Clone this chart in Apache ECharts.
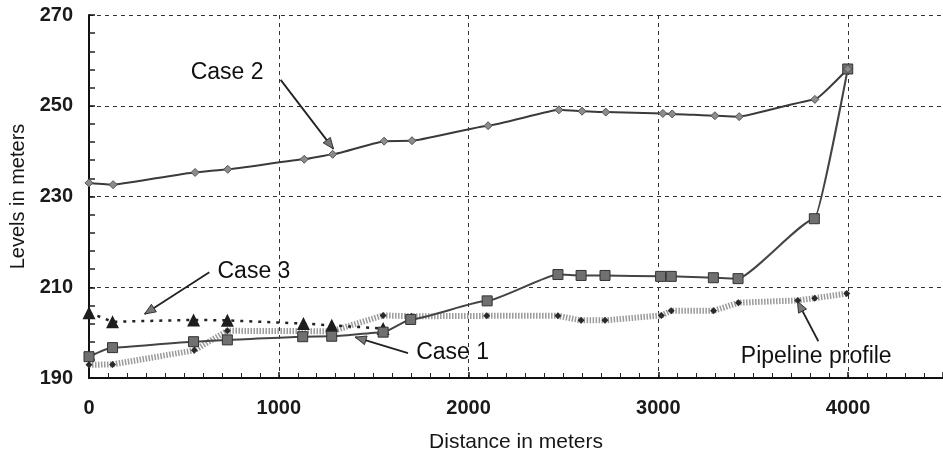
<!DOCTYPE html>
<html>
<head>
<meta charset="utf-8">
<script src="https://cdn.jsdelivr.net/npm/echarts@6/dist/echarts.min.js"></script>
<style>
html,body{margin:0;padding:0;background:#fff;}
#levels{width:943px;height:458px;}
</style>
</head>
<body>
<div id="levels"></div>
<script>
// values: [distance m, level m]
var case1 = [[0,194.7],[124,196.7],[551,198],[729,198.4],[1126,199.1],[1279,199.2],[1550,200.1],[1695,202.9],[2098,207],[2471,212.8],[2593,212.6],[2719,212.6],[3012,212.4],[3068,212.4],[3290,212.1],[3420,211.9],[3822,225.1],[3998,258.1]];
var case2 = [[0,233],[127,232.6],[559,235.3],[731,236],[1134,238.2],[1284,239.3],[1555,242.2],[1702,242.3],[2103,245.6],[2476,249.1],[2598,248.8],[2723,248.6],[3024,248.3],[3073,248.2],[3298,247.8],[3426,247.6],[3825,251.4],[3998,258.1]];
var case3 = [[0,204.4],[124,202.4],[551,202.8],[729,202.7],[1130,202],[1279,201.6],[1550,200.9]];
var pipeline = [[0,192.9],[124,193],[555,196.1],[729,200.4],[1279,200.3],[1550,203.8],[1700,203.6],[2096,203.7],[2471,203.7],[2593,202.7],[2719,202.7],[3016,203.8],[3068,204.8],[3291,204.8],[3422,206.6],[3735,207.1],[3824,207.6],[3993,208.6]];

// annotation: label text, label centre, pointer start, pointer end (data units)
var notes = [
  {text:'Case 2', at:[728,257.3], from:[1010,255.7], to:[1288,240.5]},
  {text:'Case 3', at:[869,213.4], from:[634,213.3], to:[293,204.1]},
  {text:'Case 1', at:[1916,195.6], from:[1681,195.5], to:[1403,199.0]},
  {text:'Pipeline profile', at:[3832,194.6], from:[3843,198.1], to:[3733,206.9]}
];

var font = '"Liberation Sans", Arial, sans-serif';
var chart = echarts.init(document.getElementById('levels'));

var option = {
  backgroundColor: '#fff',
  animation: false,
  grid: {left: 89, top: 15, right: -6, bottom: 80},
  xAxis: {
    type: 'value',
    min: 0, max: 4500, interval: 1000,
    name: 'Distance in meters',
    nameLocation: 'middle',
    nameGap: 54,
    nameTextStyle: {fontFamily: font, fontSize: 21, color: '#161616'},
    axisLine: {show: true, lineStyle: {color: '#111', width: 2}},
    axisTick: {inside: true, length: 6, lineStyle: {color: '#111', width: 1.5}},
    minorTick: {show: true, splitNumber: 10, length: 5, lineStyle: {color: '#222'}},
    axisLabel: {
      fontFamily: font, fontSize: 20, fontWeight: 'bold', color: '#1a1a1a', margin: 20, showMaxLabel: false,
      formatter: function (v) { return String(v); }
    },
    splitLine: {show: true, lineStyle: {color: '#333', type: [4, 4], width: 1}}
  },
  yAxis: {
    type: 'value',
    min: 190, max: 270, interval: 20,
    name: 'Levels in meters',
    nameLocation: 'middle',
    nameGap: 57,
    nameTextStyle: {fontFamily: font, fontSize: 20, color: '#161616'},
    axisLine: {show: true, lineStyle: {color: '#111', width: 2}},
    axisTick: {inside: true, length: 6, lineStyle: {color: '#111', width: 1.5}},
    minorTick: {show: true, splitNumber: 5, length: 6, lineStyle: {color: '#222', width: 1.5}},
    axisLabel: {fontFamily: font, fontSize: 20, fontWeight: 'bold', color: '#1a1a1a', margin: 16},
    splitLine: {show: true, lineStyle: {color: '#333', type: [4, 4], width: 1}}
  },
  series: [
    {
      name: 'Pipeline profile', type: 'line', data: pipeline,
      symbol: 'diamond', symbolSize: 7, z: 2,
      itemStyle: {color: '#2a2a2a'},
      lineStyle: {color: '#9a9a9a', width: 6, type: [1.5, 1.5]}
    },
    {
      name: 'Case 3', type: 'line', data: case3,
      symbol: 'triangle', symbolSize: 13, z: 3,
      itemStyle: {color: '#1e1e1e'},
      lineStyle: {color: '#222', width: 2.5, type: [3, 6]}
    },
    {
      name: 'Case 1', type: 'line', data: case1,
      symbol: 'rect', symbolSize: 10, z: 4,
      smooth: 0.15, smoothMonotone: 'x',
      itemStyle: {color: '#707070', borderColor: '#333', borderWidth: 1},
      lineStyle: {color: '#444', width: 2}
    },
    {
      name: 'Case 2', type: 'line', data: case2,
      symbol: 'diamond', symbolSize: 8, z: 4,
      smooth: 0.1, smoothMonotone: 'x',
      itemStyle: {color: '#8c8c8c', borderColor: '#555', borderWidth: 1},
      lineStyle: {color: '#3a3a3a', width: 2}
    }
  ]
};
chart.setOption(option);

// pointers and labels placed through the chart's own scales
var elements = [];
notes.forEach(function (n) {
  var c = chart.convertToPixel({gridIndex: 0}, n.at);
  var a = chart.convertToPixel({gridIndex: 0}, n.from);
  var b = chart.convertToPixel({gridIndex: 0}, n.to);
  elements.push({
    type: 'text', x: c[0], y: c[1],
    style: {text: n.text, font: '23px ' + font, fill: '#111', align: 'center', verticalAlign: 'middle'}
  });
  elements.push({
    type: 'line', shape: {x1: a[0], y1: a[1], x2: b[0], y2: b[1]},
    style: {stroke: '#222', lineWidth: 1.8}
  });
  var ang = Math.atan2(b[1] - a[1], b[0] - a[0]);
  var len = 11, half = 4.5;
  var bx = b[0] - len * Math.cos(ang), by = b[1] - len * Math.sin(ang);
  elements.push({
    type: 'polygon',
    shape: {points: [
      [b[0], b[1]],
      [bx + half * Math.sin(ang), by - half * Math.cos(ang)],
      [bx - half * Math.sin(ang), by + half * Math.cos(ang)]
    ]},
    style: {fill: '#777', stroke: '#333', lineWidth: 1}
  });
});
chart.setOption({graphic: {elements: elements}});
</script>
</body>
</html>
